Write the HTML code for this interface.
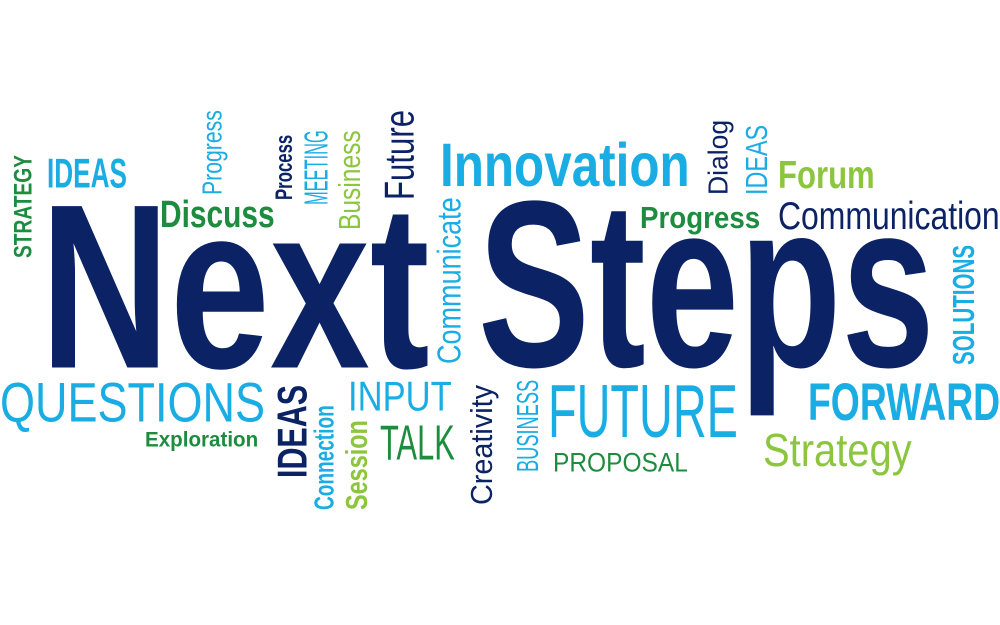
<!DOCTYPE html>
<html><head><meta charset="utf-8">
<style>
html,body{margin:0;padding:0;background:#fff;}
#cloud{position:relative;width:1000px;height:625px;overflow:hidden;background:#fff;}
.w{position:absolute;left:0;top:0;white-space:nowrap;line-height:1;transform-origin:0 0;font-family:"Liberation Sans",sans-serif;}
</style></head>
<body>
<div id="cloud"></div>
<script>
const C={navy:"#0b2265",cyan:"#19ade4",green:"#1d8c3e",lime:"#8cc63f"};
// horizontal: text, x, capTop, capHeight, width, bold, color
const horizWords=[
["Next",40,200,168,390,1,"navy"],
["Steps",478,197,170,457,1,"navy"],
["IDEAS",47,158,30,80,1,"cyan"],
["Discuss",160,201,27,115,1,"green"],
["Innovation",440,143,44,250,1,"cyan"],
["Forum",778,161,28,97,1,"lime"],
["Progress",640,207,22,120,1,"green"],
["Communication",778,202,28,222,0,"navy"],
["QUESTIONS",0,382,40,265,0,"cyan"],
["Exploration",145,433,15,113,1,"green"],
["INPUT",348,381,30,104,0,"cyan"],
["TALK",380,426,35,75,0,"green"],
["FUTURE",548,384,54,190,0,"cyan"],
["PROPOSAL",553,453,19,135,0,"green"],
["FORWARD",808,383,38,192,1,"cyan"],
["Strategy",763,433,33,149,0,"lime"]
];
// vertical: text, xLeft, capHeight, yBottom, length, bold, color
const vertWords=[
["STRATEGY",15,18,258,103,1,"green"],
["Progress",202,20,195,85,0,"cyan"],
["Process",277,17,200,65,1,"navy"],
["MEETING",305,24,205,75,0,"cyan"],
["Business",339,22,230,100,0,"lime"],
["Future",384,30,200,90,0,"navy"],
["Communicate",438,24,364,167,0,"cyan"],
["Dialog",708,20,195,75,0,"navy"],
["IDEAS",746,22,195,70,0,"cyan"],
["SOLUTIONS",953,22,365,120,1,"cyan"],
["IDEAS",277,30,478,93,1,"navy"],
["Connection",314,20,510,105,1,"cyan"],
["Session",346,22,510,90,1,"lime"],
["Creativity",471,22,505,120,0,"navy"],
["BUSINESS",517,22,472,92,0,"cyan"]
];
const cloud=document.getElementById('cloud');
function mk(t,fs,bold,col){
  const el=document.createElement('div');
  el.className='w';
  el.textContent=t;
  el.style.fontSize=fs+'px';
  el.style.fontWeight=bold?'bold':'normal';
  el.style.color=C[col];
  
  
  cloud.appendChild(el);
  return el;
}
horizWords.forEach(([t,x,top,ch,w,b,col])=>{
  const fs=ch/0.716;
  const el=mk(t,fs,b,col);
  const s=w/el.offsetWidth;
  el.style.transform=`translate(${x}px,${top-0.13*fs}px) scaleX(${s})`;
});
vertWords.forEach(([t,xl,ch,yb,len,b,col])=>{
  const fs=ch/0.716;
  const el=mk(t,fs,b,col);
  const s=len/el.offsetWidth;
  el.style.transform=`translate(${xl-0.13*fs}px,${yb}px) rotate(-90deg) scaleX(${s})`;
});
</script>
</body></html>
